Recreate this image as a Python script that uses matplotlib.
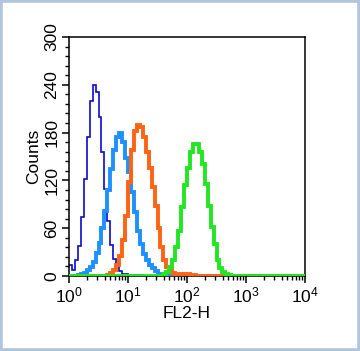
import numpy as np
import matplotlib
matplotlib.use("Agg")
import matplotlib.pyplot as plt
from matplotlib.patches import Rectangle
from matplotlib.ticker import LogLocator, MultipleLocator

plt.rcParams['font.family'] = ['Liberation Sans', 'DejaVu Sans']
plt.rcParams['mathtext.fontset'] = 'custom'
plt.rcParams['mathtext.rm'] = 'Liberation Sans'

# FL2-H channels: 80 bins spread evenly over four decades
channel_decades = np.linspace(0, 4, 81)

# counts per channel
dark_blue = [14, 8, 20, 38, 74, 122, 175, 220, 240, 231,
             200, 156, 109, 69, 39, 21, 12, 6, 3, 2,
             1, 0, 1, 0, 1, 0, 0, 0, 0, 0,
             0, 0, 0, 0, 0, 0, 0, 0, 0, 0,
             0, 0, 0, 0, 0, 0, 0, 0, 0, 0,
             0, 0, 0, 0, 0, 0, 0, 0, 0, 0,
             0, 0, 0, 0, 0, 0, 0, 0, 0, 0,
             0, 0, 0, 0, 0, 0, 0, 0, 0, 0]
light_blue = [0, 0, 0, 1, 2, 4, 7, 11, 17, 29,
              42, 60, 81, 108, 134, 158, 175, 179, 168, 148,
              130, 105, 80, 56, 40, 28, 20, 14, 10, 6,
              3, 2, 1, 1, 0, 0, 0, 0, 0, 0,
              0, 0, 0, 0, 0, 0, 0, 0, 0, 0,
              0, 0, 0, 0, 0, 0, 0, 0, 0, 0,
              0, 0, 0, 0, 0, 0, 0, 0, 0, 0,
              0, 0, 0, 0, 0, 0, 0, 0, 0, 0]
orange = [0, 0, 0, 0, 0, 0, 0, 0, 0, 0,
          0, 0, 0, 1, 4, 8, 14, 25, 45, 75,
          118, 158, 182, 190, 187, 174, 155, 136, 112, 88,
          60, 36, 20, 11, 6, 4, 3, 2, 3, 2,
          2, 1, 1, 0, 0, 0, 0, 0, 0, 0,
          0, 0, 0, 0, 0, 0, 0, 0, 0, 0,
          0, 0, 0, 0, 0, 0, 0, 0, 0, 0,
          0, 0, 0, 0, 0, 0, 0, 0, 0, 0]
green = [0, 0, 0, 0, 0, 0, 0, 0, 0, 0,
         0, 0, 0, 0, 0, 0, 0, 0, 0, 0,
         0, 0, 0, 0, 0, 0, 0, 0, 0, 0,
         0, 0, 2, 5, 11, 20, 36, 57, 87, 114,
         136, 155, 166, 166, 155, 140, 116, 88, 61, 40,
         20, 10, 5, 2, 1, 0, 0, 0, 0, 0,
         0, 0, 0, 0, 0, 0, 0, 0, 0, 0,
         0, 0, 0, 0, 0, 0, 0, 0, 0, 0]

y_ticks = [0, 60, 120, 180, 240, 300]

edges = 10 ** channel_decades

fig = plt.figure(figsize=(3.6, 3.51), dpi=100)
ax = fig.add_axes([0.1917, 0.2137, 0.6556, 0.681])

ax.stairs(dark_blue, edges, baseline=None, color='#0A0ACD', lw=1.2, zorder=2)
ax.stairs(light_blue, edges, baseline=None, color='#1E90FF', lw=2.8, zorder=3)
ax.stairs(orange, edges, baseline=None, color='#FF6414', lw=2.8, zorder=4)
ax.stairs(green, edges, baseline=None, color='#22E622', lw=2.8, zorder=5)

ax.set_xscale('log')
ax.set_xlim(1, 1e4)
ax.set_ylim(0, 300)
ax.set_yticks(y_ticks)
ax.yaxis.set_minor_locator(MultipleLocator(12))
ax.xaxis.set_major_locator(LogLocator(base=10, numticks=10))
ax.xaxis.set_minor_locator(LogLocator(base=10, subs=np.arange(2, 10), numticks=20))

ax.tick_params(which='major', length=5, width=1.1, labelsize=12.5, direction='out', pad=2)
ax.tick_params(which='minor', length=3, width=1.0, direction='out')
ax.tick_params(axis='y', labelrotation=90)
for lab in ax.get_yticklabels():
    lab.set_va('center')

for sp in ax.spines.values():
    sp.set_linewidth(1.1)

ax.set_xlabel('FL2-H', fontsize=12.5, labelpad=0)
ax.set_ylabel('Counts', fontsize=12.5, labelpad=2)

# light frame round the whole picture
fig.patches.append(Rectangle((0, 0), 1, 1, transform=fig.transFigure, fill=False,
                             ec='#AFC4DD', lw=4, zorder=10))

fig.savefig('out.png', dpi=100)
